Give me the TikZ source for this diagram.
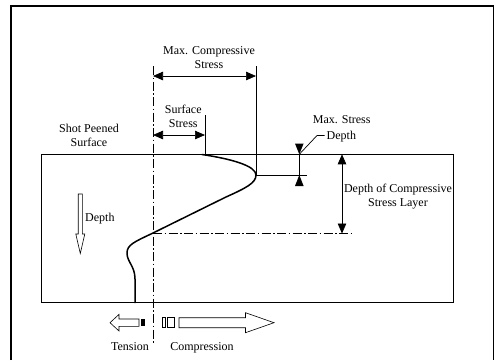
\documentclass[tikz,border=0pt]{standalone}
\usepackage{fontspec}
\setmainfont{Liberation Serif}
\usetikzlibrary{arrows.meta}
\begin{document}
\begin{tikzpicture}[x=1pt,y=-1pt,
 lbl/.style={font=\fontsize{12}{14}\selectfont, inner sep=0pt, align=center, anchor=base},
 lblw/.style={font=\fontsize{12}{14}\selectfont, inner sep=0pt, anchor=base west},
 dimline/.style={line width=0.7pt, {Triangle[length=10pt,width=8.5pt]}-{Triangle[length=10pt,width=8.5pt]}},
 fine/.style={line width=0.7pt},
 dashdot/.style={line width=0.6pt, dash pattern=on 9pt off 2.5pt on 1.5pt off 2.5pt},
 profile/.style={line width=1.5pt, line join=round, line cap=round},
 hollow/.style={line width=0.6pt, fill=white}]
\useasboundingbox (0,0) rectangle (496,360);
% frame
\draw[line width=1.8pt] (11,360) -- (11,6) -- (493.5,6) -- (493.5,360);
% specimen
\coordinate (rTL) at (41.3,154.3);
\coordinate (rBR) at (453.3,302.7);
\draw[fine] (rTL) rectangle (rBR);
% zero-stress axis
\coordinate (axTop) at (153,66);
\coordinate (axBot) at (153,343);
\draw[dashdot] (axTop) -- (axBot);
% max compressive stress
\coordinate (mcL) at (153,76);
\coordinate (mcR) at (256,76);
\coordinate (mcTop) at (256,66);
\coordinate (peak) at (256,175);
\coordinate (peakEnd) at (307,175);
\draw[fine] (mcTop) -- (peak) -- (peakEnd);
\draw[dimline] (mcL) -- (mcR);
% surface stress
\coordinate (ssL) at (153,135);
\coordinate (ssR) at (205,135);
\coordinate (ssTop) at (205,115);
\coordinate (ssBot) at (205,154.3);
\draw[fine] (ssTop) -- (ssBot);
\draw[dimline] (ssL) -- (ssR);
% stress profile
\draw[profile] (202,154.5) .. controls (232,159) and (256,166) .. (256,175)
  .. controls (256,183) and (246,188) .. (226,197)
  -- (152,233.5)
  .. controls (134,242) and (127,245) .. (127,253)
  .. controls (127,262) and (135,266) .. (135,279)
  -- (135,302.7);
% max stress depth marker
\coordinate (msTop) at (299.3,154.3);
\coordinate (msBot) at (299.3,175);
\draw[fine] (msTop) -- (msBot);
\fill (msTop) -- (295,143.5) -- (303.6,143.5) -- cycle;
\fill (msBot) -- (295,186) -- (303.6,186) -- cycle;
\coordinate (ldA) at (317,135.5);
\coordinate (ldB) at (324.5,135.5);
\draw[fine] (msTop) -- (ldA) -- (ldB);
\node[lbl] (msLbl) at (341.7,123) {Max. Stress};
\node[lblw] (msDepth) at (326.5,139) {Depth};
% depth of compressive layer
\coordinate (dcTop) at (342,154.3);
\coordinate (dcBot) at (342,233.5);
\draw[dimline] (dcTop) -- (dcBot);
\coordinate (dlEnd) at (352,233.5);
\coordinate (dlStart) at (153,233.5);
\draw[dashdot] (dlStart) -- (dlEnd);
\node[lbl] (dcLbl) at (398,206.5) {Depth of Compressive\\Stress Layer};
% labels
\node[lbl] (mcLbl) at (209,68.3) {Max. Compressive\\Stress};
\node[lbl] (ssLbl) at (183.3,127.3) {Surface\\Stress};
\node[lbl] (spLbl) at (89,146.7) {Shot Peened\\Surface};
% depth arrow
\draw[hollow] (78.2,194) -- (82.4,194) -- (82.4,234) -- (84.8,234) -- (80.3,253.5)
  -- (75.8,234) -- (78.2,234) -- cycle;
\node[lblw] (depthLbl) at (85,221) {Depth};
% tension arrow
\draw[hollow] (110,322.7) -- (119,314.4) -- (119,319) -- (139,319) -- (139,326.4)
  -- (119,326.4) -- (119,331) -- cycle;
\fill (140.5,319) rectangle (143.6,326.4);
\draw[line width=0.6pt] (144.6,319) -- (144.6,326.4);
% compression arrow
\draw[hollow] (162,317.7) rectangle (165.7,327.7);
\draw[hollow] (167.3,317.7) rectangle (174.5,327.7);
\draw[hollow] (179,317.7) -- (245.5,317.7) -- (245.5,312.7) -- (274,322.7)
  -- (245.5,332.7) -- (245.5,327.7) -- (179,327.7) -- cycle;
\node[lbl] (tenLbl) at (130,350) {Tension};
\node[lbl] (comLbl) at (202,350) {Compression};
\end{tikzpicture}
\end{document}
